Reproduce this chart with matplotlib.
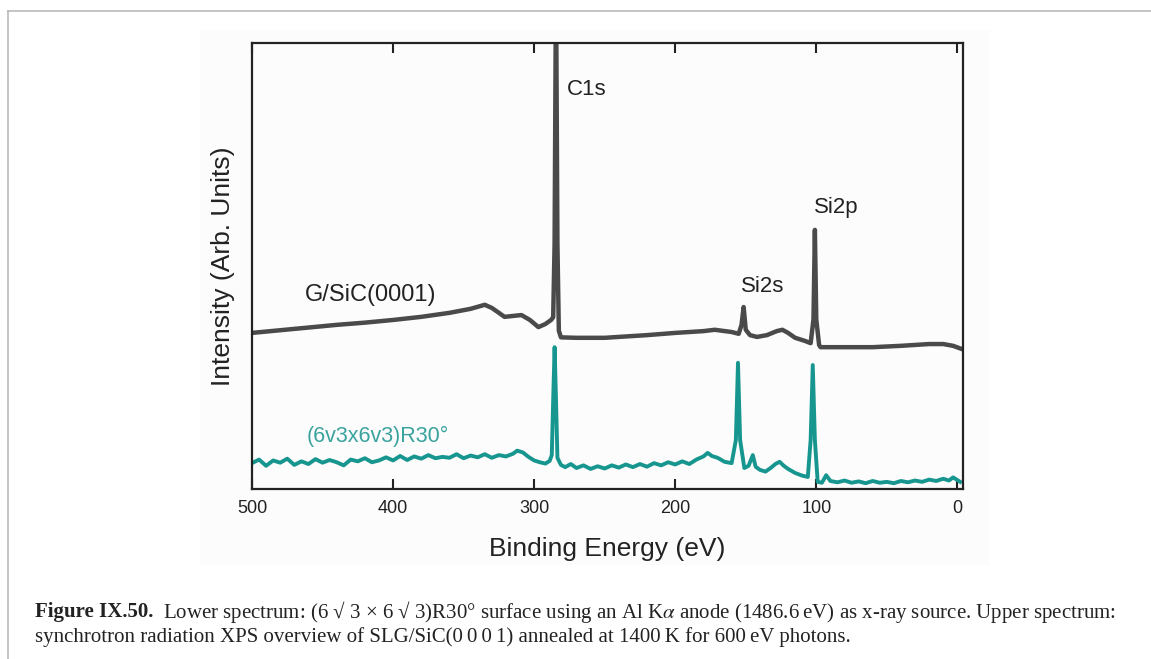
import matplotlib
matplotlib.use('Agg')
import matplotlib.pyplot as plt
from matplotlib.patches import Rectangle
from matplotlib.lines import Line2D

# ─── data (binding energy in eV, intensity in arb. units) ─────────────────────
UPPER_E = [500, 480, 460, 440, 420, 400, 380, 360, 345, 335, 330, 325, 321,
           315, 309, 303, 297, 292, 288, 286.5, 285.5, 284.5, 283.5, 282.5,
           281, 270, 250, 220, 200, 180, 172, 160, 155, 153, 151.5, 150, 147,
           142, 135, 128, 124, 120, 115, 108, 104, 102, 101, 100, 98, 97, 80,
           60, 40, 20, 10, 3, -3]
UPPER_I = [35.0, 35.6, 36.2, 36.8, 37.3, 37.9, 38.6, 39.5, 40.4, 41.3, 40.6,
           39.5, 38.6, 38.8, 39.0, 37.9, 36.3, 37.0, 37.9, 38.5, 55.0, 115.0,
           55.0, 35.5, 34.0, 33.9, 33.9, 34.5, 35.0, 35.4, 35.7, 35.2, 34.8,
           36.8, 40.8, 35.7, 34.5, 34.1, 34.5, 35.4, 35.7, 35.0, 33.9, 33.2,
           32.7, 38.0, 58.1, 38.0, 32.3, 31.8, 31.8, 31.8, 32.1, 32.5, 32.5,
           32.1, 31.4]

LOWER_E = [500, 495, 490, 485, 480, 475, 470, 465, 460, 455, 450, 445, 440,
           435, 430, 425, 420, 415, 410, 405, 400, 395, 390, 385, 380, 375,
           370, 365, 360, 355, 350, 345, 340, 335, 330, 325, 320, 315, 312,
           308, 304, 300, 296, 292, 289, 287.5, 286.5, 285.5, 284.5, 283.5,
           281, 278, 274, 270, 265, 260, 255, 250, 245, 240, 235, 230, 225,
           220, 215, 210, 205, 200, 195, 190, 185, 180, 177, 174, 170, 165,
           160, 157, 155.5, 154, 151, 148, 145, 143, 140, 136, 132, 129, 126,
           123, 120, 115, 110, 106, 104, 102.5, 101, 99, 96, 93, 90, 85, 80,
           75, 70, 65, 60, 55, 50, 45, 40, 35, 30, 25, 20, 15, 10, 6, 3, 1, -2]
LOWER_I = [5.8, 6.6, 5.2, 6.4, 5.9, 6.8, 5.4, 6.2, 5.6, 6.7, 5.9, 6.5, 6.0,
           5.3, 6.6, 6.2, 6.9, 6.0, 6.4, 7.1, 6.4, 7.4, 6.5, 7.3, 6.8, 7.6,
           6.9, 7.2, 7.0, 7.8, 6.9, 7.5, 7.1, 7.8, 7.0, 7.6, 7.3, 7.9, 8.6,
           8.2, 7.2, 6.4, 6.0, 5.7, 6.3, 7.6, 20.0, 31.8, 20.0, 7.0, 5.4, 4.9,
           5.6, 4.7, 5.3, 4.5, 5.1, 4.6, 5.3, 4.8, 5.5, 4.9, 5.6, 5.0, 5.8,
           5.3, 6.0, 5.5, 6.2, 5.6, 6.6, 7.3, 8.1, 7.4, 7.0, 6.1, 5.8, 11.0,
           28.3, 11.0, 4.7, 5.2, 7.6, 5.0, 4.3, 3.9, 4.8, 5.6, 6.1, 5.2, 4.5,
           3.6, 3.0, 2.7, 11.0, 27.8, 11.0, 1.6, 1.4, 3.1, 1.8, 1.5, 1.9, 1.4,
           1.7, 1.3, 1.8, 1.4, 1.6, 1.3, 1.8, 1.5, 1.9, 1.6, 2.1, 1.8, 2.3,
           1.9, 2.6, 2.2, 1.6]

X_TICKS = [500, 400, 300, 200, 100, 0]
PEAK_LABELS = ['C1s', 'Si2p', 'Si2s']
PEAK_LABEL_POS = [(276.6, 89.5), (101.6, 63.2), (153.2, 45.3)]
UPPER_NAME = 'G/SiC(0001)'
LOWER_NAME = '(6v3x6v3)R30°'

CAPTION_BOLD = 'Figure IX.50.'
CAPTION_1 = ('Lower spectrum: (6 \u221a 3 \u00d7 6 \u221a 3)R30\u00b0 surface using an Al K$\\alpha$ '
             'anode (1486.6\u2009eV) as x-ray source. Upper spectrum:')
CAPTION_2 = ('synchrotron radiation XPS overview of SLG/SiC(0\u20090\u20090\u20091) annealed at '
             '1400\u2009K for 600\u2009eV photons.')

GRAY = '#4a4a4a'
TEAL = '#17968f'

W, H = 1151, 659
plt.rcParams['font.family'] = ['Liberation Sans', 'DejaVu Sans']
plt.rcParams['mathtext.fontset'] = 'stix'

fig = plt.figure(figsize=(W / 100, H / 100), dpi=100)

# page frame lines
fig.add_artist(Line2D([8 / W, 1], [1 - 10.7 / H] * 2, color='#b4b4b4', lw=1.1))
fig.add_artist(Line2D([8 / W] * 2, [0, 1 - 10.7 / H], color='#b4b4b4', lw=1.1))
# faint background of the pasted plot image
fig.add_artist(Rectangle((200 / W, 1 - 565 / H), 790 / W, 535 / H,
                         facecolor='#fcfcfc', edgecolor='none', zorder=0))

ax = fig.add_axes([252 / W, 1 - 489 / H, 711 / W, 446 / H])
ax.set_facecolor('none')
ax.plot(UPPER_E, UPPER_I, color=GRAY, lw=3.2, solid_joinstyle='round')
ax.plot(LOWER_E, LOWER_I, color=TEAL, lw=2.8, solid_joinstyle='round')

ax.set_xlim(500, -4)
ax.set_ylim(0, 100)
ax.set_xticks(X_TICKS)
ax.set_xticklabels([str(t) for t in X_TICKS])
ax.set_yticks([])
ax.tick_params(axis='x', direction='in', top=True, length=7, width=1.5,
               labelsize=13, pad=8, colors='#222222')
for sp in ax.spines.values():
    sp.set_linewidth(1.6)
    sp.set_color('#222222')

ax.set_xlabel('Binding Energy (eV)', fontsize=19, labelpad=14, color='#222222')
ax.set_ylabel('Intensity (Arb. Units)', fontsize=19, labelpad=12, color='#222222')

for lab, (x, y) in zip(PEAK_LABELS, PEAK_LABEL_POS):
    ax.text(x, y, lab, fontsize=16, ha='left', va='center', color='#222222')
ax.text(462.4, 43.5, UPPER_NAME, fontsize=17, ha='left', va='center', color='#222222')
ax.text(461, 11.7, LOWER_NAME, fontsize=15.5, ha='left', va='center', color='#3aa39e')

# caption
cap_font = ['Liberation Serif', 'DejaVu Serif']
t_bold = fig.text(35 / W, 1 - 612 / H, CAPTION_BOLD, fontsize=15, fontweight='bold',
                  family=cap_font, va='center', color='#222222')
fig.canvas.draw()
bb = t_bold.get_window_extent()
fig.text((bb.x1 + 10) / W, 1 - 612 / H, CAPTION_1, fontsize=15, family=cap_font,
         va='center', color='#222222')
fig.text(35 / W, 1 - 637 / H, CAPTION_2, fontsize=15, family=cap_font,
         va='center', color='#222222')

fig.savefig('out.png', dpi=100)
